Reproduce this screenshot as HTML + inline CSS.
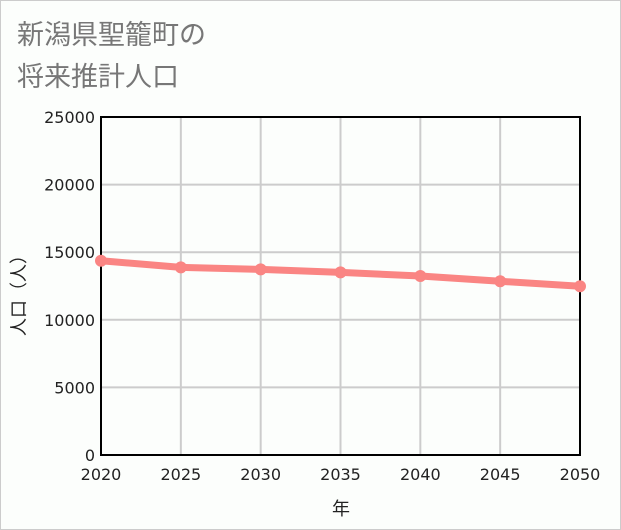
<!DOCTYPE html>
<html><head><meta charset="utf-8">
<style>
html,body{margin:0;padding:0;}
body{width:621px;height:530px;background:#fff;font-family:"DejaVu Sans","Noto Sans CJK JP",sans-serif;}
#wrap{position:relative;width:619px;height:528px;border:1px solid #ccc;background:#fcfefc;}
.title{position:absolute;left:16px;font-size:27px;color:#777;font-family:"Noto Sans CJK JP",sans-serif;line-height:1;}
</style></head><body>
<div id="wrap">
<div class="title" style="top:18px">新潟県聖籠町の</div>
<div class="title" style="top:60px">将来推計人口</div>
<svg id="svg" width="619" height="528" style="position:absolute;left:0;top:0"></svg>
</div>
<script>
const years=[2020,2025,2030,2035,2040,2045,2050];
const population=[14370,13880,13730,13510,13240,12850,12480];
const yTicks=[0,5000,10000,15000,20000,25000];
const ns="http://www.w3.org/2000/svg";
const svg=document.getElementById('svg');
const X0=100,X1=579,Y0=454,Y1=116;
const xs=v=>X0+(v-2020)/30*(X1-X0);
const ys=v=>Y0-v/25000*(Y0-Y1);
function mk(t,a,p){const e=document.createElementNS(ns,t);for(const k in a)e.setAttribute(k,a[k]);(p||svg).appendChild(e);return e;}
yTicks.forEach(v=>{
 const g=mk('line',{x1:X0,x2:X1,y1:ys(v),y2:ys(v),stroke:'#ccc','stroke-width':2});
 
 
 const t=mk('text',{x:X0-6,y:ys(v)+6,'text-anchor':'end','font-size':16,fill:'#222'});
 t.textContent=v;
 
 
});
years.forEach(v=>{
 const g=mk('line',{x1:xs(v),x2:xs(v),y1:Y1,y2:Y0,stroke:'#ccc','stroke-width':2});
 
 
 const t=mk('text',{x:xs(v),y:479,'text-anchor':'middle','font-size':16,fill:'#222'});
 t.textContent=v;
 
 
});
const f=mk('rect',{x:X0,y:Y1,width:X1-X0,height:Y0-Y1,fill:'none',stroke:'#000','stroke-width':2});


const pl=mk('polyline',{points:years.map((y,i)=>xs(y)+','+ys(population[i])).join(' '),fill:'none',stroke:'#fa8583','stroke-width':7,'stroke-linejoin':'round'});


years.forEach((y,i)=>{
 const c=mk('circle',{cx:xs(y),cy:ys(population[i]),r:6,fill:'#fa8583'});
 
 
});
const xt=mk('text',{x:340,y:514,'text-anchor':'middle','font-size':18,fill:'#222'});
xt.textContent='年';


const yt=mk('text',{x:0,y:0,'text-anchor':'middle','font-size':18,fill:'#222',transform:'translate(24,290) rotate(-90)'});
yt.textContent='人口（人）';


</script>
</body></html>
